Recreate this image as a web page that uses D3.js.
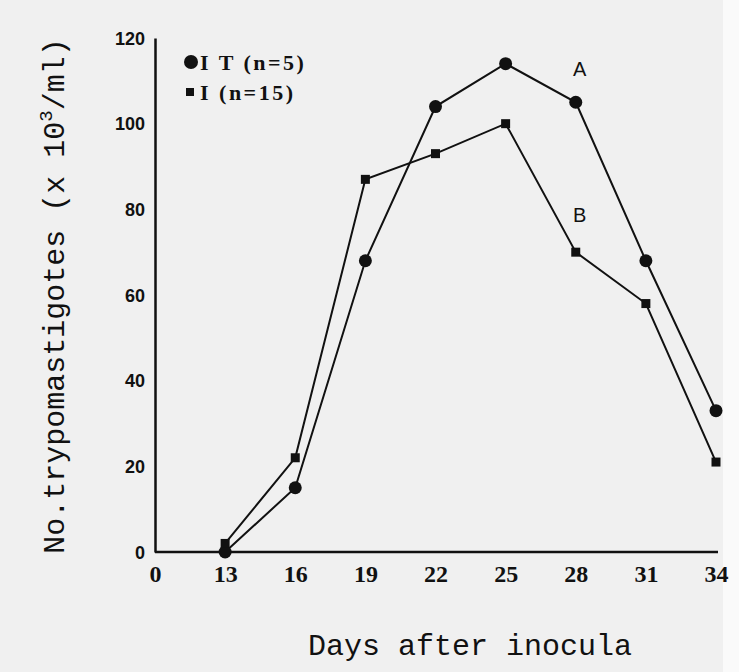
<!DOCTYPE html>
<html>
<head>
<meta charset="utf-8">
<script src="https://cdn.jsdelivr.net/npm/d3@7"></script>
<style>
  body { margin: 0; background: #f0f0f0; }
  svg { display: block; }
</style>
</head>
<body>
<script>
// days after inoculation (0 is only an axis origin, no data there)
var days = ['0', '13', '16', '19', '22', '25', '28', '31', '34']
var yTicks = [0, 20, 40, 60, 80, 100, 120]

// series A: IT (n=5), circles
var seriesA = [0, 15, 68, 104, 114, 105, 68, 33]
// series B: I (n=15), squares
var seriesB = [2, 22, 87, 93, 100, 70, 58, 21]
var dataDays = days.slice(1)

var W = 739, H = 672
var svg = d3.select('body').append('svg')
  .attr('width', W).attr('height', H)

svg.append('rect').attr('width', W).attr('height', H).attr('fill', '#f0f0f0')
svg.append('rect').attr('x', 723).attr('width', W - 723).attr('height', H).attr('fill', '#fafafa')

var x = d3.scalePoint().domain(days).range([155, 716])
var y = d3.scaleLinear().domain([0, 120]).range([552, 38])

// axes
var yAxis = svg.append('g')
  .attr('transform', 'translate(155,0)')
  .call(d3.axisLeft(y).tickValues(yTicks).tickSize(0).tickPadding(10))
yAxis.select('.domain').attr('stroke', '#111').attr('stroke-width', 2.5)
yAxis.selectAll('text')
  .attr('font-family', 'Liberation Sans Narrow, Liberation Sans, Arial, sans-serif')
  .attr('font-weight', 'bold')
  .attr('font-size', 18)
  .attr('fill', '#111')
  .attr('dy', '0.35em')

var xAxis = svg.append('g')
  .attr('transform', 'translate(0,552)')
  .call(d3.axisBottom(x).tickSize(0).tickPadding(13))
xAxis.select('.domain').attr('stroke', '#111').attr('stroke-width', 2.5)
  .attr('d', 'M155,0H718')
xAxis.selectAll('text')
  .attr('font-family', 'Liberation Serif, Times New Roman, serif')
  .attr('font-weight', 'bold')
  .attr('font-size', 24)
  .attr('fill', '#111')

// lines
var line = d3.line()
  .x(function(d, i) { return x(dataDays[i]) })
  .y(function(d) { return y(d) })

svg.append('path').datum(seriesA)
  .attr('d', line).attr('fill', 'none')
  .attr('stroke', '#111').attr('stroke-width', 2)
svg.append('path').datum(seriesB)
  .attr('d', line).attr('fill', 'none')
  .attr('stroke', '#111').attr('stroke-width', 2)

svg.append('g').selectAll('circle')
  .data(seriesA).enter().append('circle')
  .attr('cx', function(d, i) { return x(dataDays[i]) })
  .attr('cy', function(d) { return y(d) })
  .attr('r', 6.5)
  .attr('fill', '#111')

svg.append('g').selectAll('rect')
  .data(seriesB).enter().append('rect')
  .attr('x', function(d, i) { return x(dataDays[i]) - 4.5 })
  .attr('y', function(d) { return y(d) - 4.5 })
  .attr('width', 9).attr('height', 9)
  .attr('fill', '#111')

// curve labels
svg.append('text')
  .attr('x', x('28') + 4).attr('y', y(113) + 8)
  .attr('text-anchor', 'middle')
  .attr('font-family', 'Liberation Sans, Arial, sans-serif')
  .attr('font-size', 20).attr('fill', '#111')
  .text('A')
svg.append('text')
  .attr('x', x('28') + 4).attr('y', y(79) + 8)
  .attr('text-anchor', 'middle')
  .attr('font-family', 'Liberation Sans, Arial, sans-serif')
  .attr('font-size', 20).attr('fill', '#111')
  .text('B')

// legend
var legend = svg.append('g')
  .attr('font-family', 'Liberation Serif, Times New Roman, serif')
  .attr('font-size', 22).attr('font-weight', 'bold')
  .attr('letter-spacing', 2.5).attr('fill', '#111')
legend.append('circle').attr('cx', 191).attr('cy', 62).attr('r', 7).attr('fill', '#111')
legend.append('text').attr('x', 200).attr('y', 70).text('I T (n=5)')
legend.append('rect').attr('x', 186).attr('y', 88).attr('width', 8).attr('height', 8).attr('fill', '#111')
legend.append('text').attr('x', 200).attr('y', 100).text('I (n=15)')

// axis titles
svg.append('text')
  .attr('x', 470).attr('y', 655)
  .attr('text-anchor', 'middle')
  .attr('font-family', 'Liberation Mono, Courier New, monospace')
  .attr('font-size', 30).attr('fill', '#111')
  .text('Days after inocula')

var yTitle = svg.append('text')
  .attr('transform', 'translate(64,296) rotate(-90)')
  .attr('text-anchor', 'middle')
  .attr('font-family', 'Liberation Mono, Courier New, monospace')
  .attr('font-size', 30).attr('fill', '#111')
yTitle.append('tspan').text('No.trypomastigotes (x 10')
yTitle.append('tspan').attr('font-size', 19).attr('dy', -12).text('3')
yTitle.append('tspan').attr('dy', 12).text('/ml)')
</script>
</body>
</html>
